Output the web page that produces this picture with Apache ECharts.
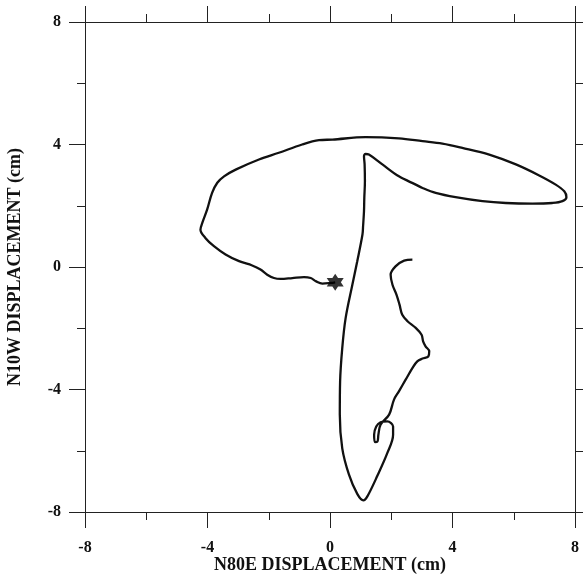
<!DOCTYPE html>
<html>
<head>
<meta charset="utf-8">
<script src="https://cdn.jsdelivr.net/npm/echarts@6/dist/echarts.min.js"></script>
<style>
  html, body { margin: 0; padding: 0; background: #fff; }
  #chart { width: 585px; height: 576px; }
</style>
</head>
<body>
<div id="chart"></div>
<script>
// Particle-motion trace (cm)
const traceX = [0.17, 0.02, -0.25, -0.45, -0.63, -0.85, -1.23, -1.61, -1.83, -2.05, -2.27, -2.54, -2.97, -3.41, -3.79, -4.07, -4.23, -4.17, -4.01, -3.85, -3.68, -3.46, -3.08, -2.32, -1.67, -0.91, -0.36, 0.08, 1.16, 2.25, 3.02, 3.67, 4.32, 5.20, 6.07, 6.83, 7.37, 7.65, 7.72, 7.59, 7.26, 6.61, 5.74, 4.98, 4.10, 3.45, 3.02, 2.80, 2.25, 1.71, 1.27, 1.16, 1.11, 1.13, 1.14, 1.12, 1.11, 1.08, 1.06, 0.89, 0.73, 0.51, 0.40, 0.33, 0.32, 0.40, 0.62, 0.89, 1.09, 1.22, 1.55, 1.87, 2.06, 2.06, 1.87, 1.65, 1.51, 1.44, 1.47, 1.55, 1.58, 1.65, 1.93, 2.09, 2.25, 2.47, 2.69, 2.85, 3.02, 3.21, 3.24, 3.12, 3.04, 2.99, 2.80, 2.53, 2.36, 2.27, 2.17, 2.04, 1.98, 2.14, 2.42, 2.69];
const traceY = [-0.50, -0.52, -0.54, -0.47, -0.36, -0.33, -0.36, -0.39, -0.36, -0.25, -0.08, 0.05, 0.19, 0.41, 0.68, 0.95, 1.22, 1.44, 1.88, 2.42, 2.75, 2.96, 3.18, 3.51, 3.73, 4.00, 4.14, 4.16, 4.24, 4.20, 4.11, 4.03, 3.89, 3.67, 3.35, 2.99, 2.69, 2.47, 2.28, 2.15, 2.09, 2.07, 2.09, 2.15, 2.28, 2.42, 2.58, 2.69, 2.96, 3.35, 3.67, 3.69, 3.62, 3.35, 2.80, 2.25, 1.82, 1.33, 1.06, 0.19, -0.58, -1.67, -2.65, -3.74, -4.82, -5.92, -6.78, -7.41, -7.62, -7.49, -6.81, -6.08, -5.48, -5.21, -5.04, -5.07, -5.21, -5.48, -5.72, -5.70, -5.48, -5.15, -4.82, -4.33, -4.06, -3.68, -3.30, -3.08, -2.99, -2.92, -2.75, -2.59, -2.43, -2.21, -1.99, -1.77, -1.56, -1.23, -0.90, -0.58, -0.25, 0.02, 0.21, 0.24];
// Star marks the start of motion
const startX = [0.17];
const startY = [-0.50];
// Axis ticks / labels
const tickValues = [-8, -4, 0, 4, 8];
const tickLabels = ['-8', '-4', '0', '4', '8'];
const xTitle = 'N80E DISPLACEMENT (cm)';
const yTitle = 'N10W DISPLACEMENT (cm)';

const traceData = traceX.map((x, i) => [x, traceY[i]]);
const startData = startX.map((x, i) => [x, startY[i]]);
const labelFor = v => { const i = tickValues.indexOf(v); return i >= 0 ? tickLabels[i] : ''; };

const starPath = 'path://M0,-10 L2.89,-5 L8.66,-5 L5.77,0 L8.66,5 L2.89,5 L0,10 L-2.89,5 L-8.66,5 L-5.77,0 L-8.66,-5 L-2.89,-5 Z';
const font = '"Liberation Serif", "Times New Roman", serif';
const lineStyle = { color: '#222', width: 1 };

function axisBase(extra) {
  return Object.assign({
    type: 'value', min: -8, max: 8, interval: 4,
    axisLine: { show: true, onZero: false, lineStyle: lineStyle },
    axisTick: { show: true, inside: false, length: 16, lineStyle: lineStyle },
    minorTick: { show: true, splitNumber: 2, length: 8, lineStyle: lineStyle },
    splitLine: { show: false },
    minorSplitLine: { show: false }
  }, extra);
}

const chart = echarts.init(document.getElementById('chart'), null, { renderer: 'canvas' });
chart.setOption({
  backgroundColor: '#fff',
  animation: false,
  grid: { left: 85, right: 10, top: 22, bottom: 64, containLabel: false, outerBoundsMode: 'none' },
  xAxis: [
    axisBase({
      position: 'bottom',
      name: xTitle, nameLocation: 'middle', nameGap: 44, nameMoveOverlap: false,
      nameTextStyle: { fontFamily: font, fontWeight: 'bold', fontSize: 18, color: '#111' },
      axisLabel: { show: true, margin: 28, formatter: labelFor, fontFamily: font, fontWeight: 'bold', fontSize: 16, color: '#111' }
    }),
    axisBase({ position: 'top', axisLabel: { show: false } })
  ],
  yAxis: [
    axisBase({
      position: 'left',
      name: yTitle, nameLocation: 'middle', nameGap: 61, nameRotate: 90, nameMoveOverlap: false,
      nameTextStyle: { fontFamily: font, fontWeight: 'bold', fontSize: 18, color: '#111' },
      axisLabel: { show: true, margin: 24, formatter: labelFor, fontFamily: font, fontWeight: 'bold', fontSize: 16, color: '#111' }
    }),
    axisBase({
      position: 'right',
      axisLabel: { show: false },
      axisTick: { show: true, inside: false, length: 8, lineStyle: lineStyle }
    })
  ],
  series: [
    {
      type: 'line', data: traceData, smooth: 0.35, showSymbol: false, symbol: 'none',
      lineStyle: { color: '#111', width: 2.3 }, z: 2
    },
    {
      type: 'scatter', data: startData, symbol: starPath, symbolSize: 17,
      itemStyle: { color: '#000' }, z: 3
    }
  ]
});
</script>
</body>
</html>
